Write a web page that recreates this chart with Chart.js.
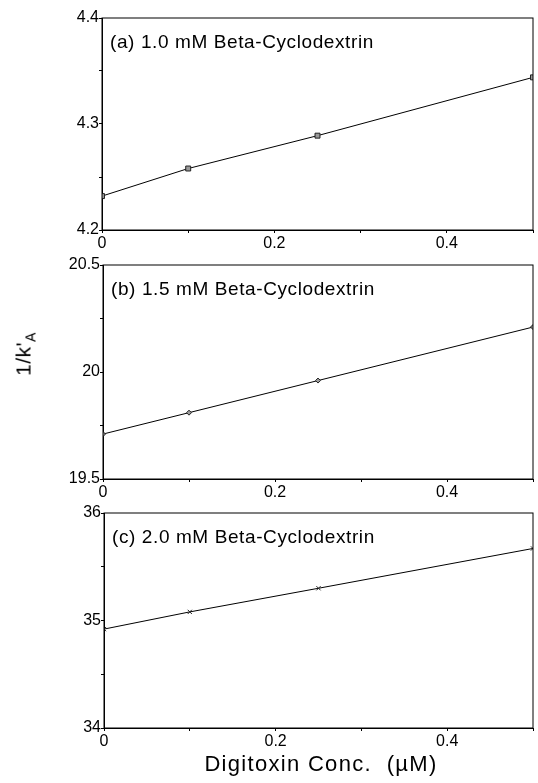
<!DOCTYPE html>
<html>
<head>
<meta charset="utf-8">
<script src="https://cdn.jsdelivr.net/npm/chart.js@4.4.0/dist/chart.umd.min.js"></script>
<style>
  body { margin: 0; background: #fff; width: 538px; height: 783px; position: relative; overflow: hidden;
         font-family: 'Liberation Sans', Arial, sans-serif; }
  canvas { position: absolute; left: 0; }
  #ytitle { position: absolute; left: 25px; top: 354px; transform: translate(-50%, -50%) rotate(-90deg);
            font-size: 21px; letter-spacing: 0.5px; white-space: nowrap; color: #000; }
  #ytitle sub { font-size: 14px; vertical-align: -5px; }
  #xtitle { position: absolute; left: 321px; top: 751px; transform: translateX(-50%);
            font-size: 22px; letter-spacing: 1.3px; white-space: nowrap; color: #000; }
</style>
</head>
<body>
<canvas id="panelA" width="538" height="250" style="top:0"></canvas>
<canvas id="panelB" width="538" height="250" style="top:250px"></canvas>
<canvas id="panelC" width="538" height="283" style="top:500px"></canvas>
<div id="ytitle">1/k'<sub>A</sub></div>
<div id="xtitle">Digitoxin Conc.&nbsp; (µM)</div>
<script>
// digitoxin concentration (uM)
const concentrations = [0, 0.1, 0.25, 0.5];
const xLabelValues = [0, 0.2, 0.4];

// 1/k'A at each beta-cyclodextrin level
const invKA10 = [4.232, 4.258, 4.289, 4.344];
const invKA15 = [19.71, 19.81, 19.96, 20.21];
const invKA20 = [34.92, 35.08, 35.30, 35.67];

const panelTitles = [
  '(a) 1.0 mM Beta-Cyclodextrin',
  '(b) 1.5 mM Beta-Cyclodextrin',
  '(c) 2.0 mM Beta-Cyclodextrin',
];
const yLabelsA = [4.2, 4.3, 4.4];
const yLabelsB = [19.5, 20, 20.5];
const yLabelsC = [34, 35, 36];

const FONT = "'Liberation Sans', Arial, sans-serif";

// box around the plot area plus the panel caption
const framePlugin = {
  id: 'frame',
  afterDraw(chart, args, opts) {
    const { ctx, chartArea: a } = chart;
    ctx.save();
    ctx.strokeStyle = '#000';
    ctx.lineWidth = 1;
    ctx.strokeRect(a.left, a.top, a.right - a.left, a.bottom - a.top);
    ctx.fillStyle = '#000';
    ctx.font = `19px ${FONT}`;
    ctx.letterSpacing = '0.6px';
    ctx.textBaseline = 'alphabetic';
    ctx.fillText(opts.text, a.left + 8, a.top + 30);
    ctx.restore();
  },
};

const hasLabel = (list, v) => list.some((l) => Math.abs(l - v) < 1e-6);

const makePanel = (id, cfg) => {
  const canvas = document.getElementById(id);
  return new Chart(canvas, {
    type: 'line',
    data: {
      datasets: [{
        data: concentrations.map((x, i) => ({ x, y: cfg.values[i] })),
        borderColor: '#000',
        borderWidth: 1,
        pointStyle: cfg.pointStyle,
        pointRadius: cfg.pointRadius,
        pointBackgroundColor: '#9a9a9a',
        pointBorderColor: '#222',
        pointBorderWidth: 1,
        tension: 0,
        fill: false,
      }],
    },
    options: {
      responsive: false,
      animation: false,
      events: [],
      layout: { padding: { top: cfg.top, right: 538 - cfg.right, left: 0, bottom: 0 } },
      plugins: {
        legend: { display: false },
        tooltip: { enabled: false },
        frame: { text: cfg.title },
      },
      scales: {
        x: {
          type: 'linear',
          min: 0,
          max: 0.5,
          border: { color: '#000', width: 1 },
          grid: { drawOnChartArea: false, color: '#000', tickLength: 3 },
          ticks: {
            stepSize: 0.1,
            maxRotation: 0,
            padding: 1,
            color: '#000',
            font: { family: FONT, size: 16 },
            callback: (v) => (hasLabel(xLabelValues, v) ? String(Math.round(v * 10) / 10) : ''),
          },
          afterFit: (scale) => { scale.height = canvas.height - cfg.bottom; },
        },
        y: {
          min: cfg.min,
          max: cfg.max,
          border: { color: '#000', width: 1 },
          grid: { drawOnChartArea: false, color: '#000', tickLength: 3 },
          ticks: {
            stepSize: cfg.step,
            padding: 0,
            color: '#000',
            font: { family: FONT, size: 16 },
            callback: (v) => (hasLabel(cfg.labels, v) ? String(Math.round(v * 10) / 10) : ''),
          },
          afterFit: (scale) => { scale.width = cfg.left; },
        },
      },
    },
    plugins: [framePlugin],
  });
};

makePanel('panelA', {
  values: invKA10, title: panelTitles[0], labels: yLabelsA,
  min: 4.2, max: 4.4, step: 0.05, pointStyle: 'rect', pointRadius: 3.5,
  top: 18, bottom: 230, left: 102, right: 536,
});
makePanel('panelB', {
  values: invKA15, title: panelTitles[1], labels: yLabelsB,
  min: 19.5, max: 20.5, step: 0.25, pointStyle: 'rectRot', pointRadius: 2.5,
  top: 15, bottom: 229, left: 103, right: 537,
});
makePanel('panelC', {
  values: invKA20, title: panelTitles[2], labels: yLabelsC,
  min: 34, max: 36, step: 0.5, pointStyle: 'crossRot', pointRadius: 3,
  top: 13, bottom: 228, left: 104, right: 537,
});
</script>
</body>
</html>
